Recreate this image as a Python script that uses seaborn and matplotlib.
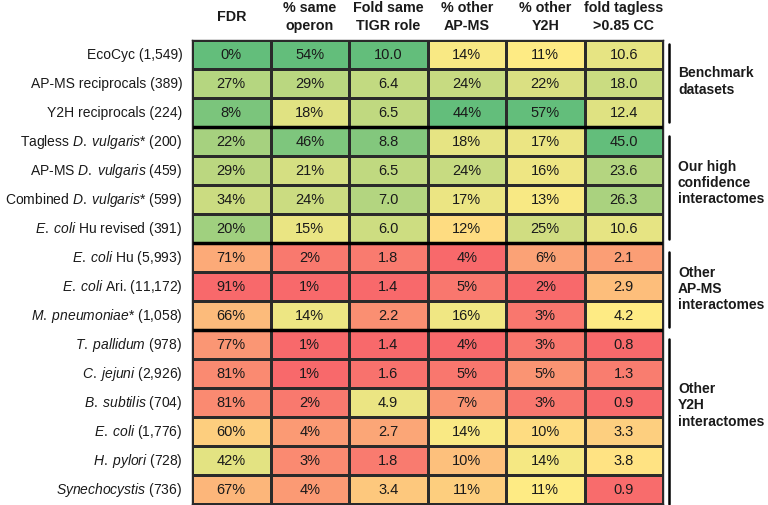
import numpy as np
import pandas as pd
import seaborn as sns
import matplotlib.pyplot as plt
from matplotlib.colors import LinearSegmentedColormap

sns.set_theme(style="white")
plt.rcParams['font.family'] = ['Liberation Sans', 'DejaVu Sans']
plt.rcParams['mathtext.fontset'] = 'custom'
plt.rcParams['mathtext.rm'] = 'Liberation Sans'
plt.rcParams['mathtext.it'] = 'Liberation Sans:italic'

# row labels (italic species names via mathtext)
row_labels = [
    "EcoCyc (1,549)",
    "AP-MS reciprocals (389)",
    "Y2H reciprocals (224)",
    r"Tagless $\mathit{D.\;vulgaris}$* (200)",
    r"AP-MS $\mathit{D.\;vulgaris}$ (459)",
    r"Combined $\mathit{D.\;vulgaris}$* (599)",
    r"$\mathit{E.\;coli}$ Hu revised (391)",
    r"$\mathit{E.\;coli}$ Hu (5,993)",
    r"$\mathit{E.\;coli}$ Ari. (11,172)",
    r"$\mathit{M.\;pneumoniae}$* (1,058)",
    r"$\mathit{T.\;pallidum}$ (978)",
    r"$\mathit{C.\;jejuni}$ (2,926)",
    r"$\mathit{B.\;subtilis}$ (704)",
    r"$\mathit{E.\;coli}$ (1,776)",
    r"$\mathit{H.\;pylori}$ (728)",
    r"$\mathit{Synechocystis}$ (736)",
]
col_headers = ["FDR", "% same\noperon", "Fold same\nTIGR role", "% other\nAP-MS",
               "% other\nY2H", "fold tagless\n>0.85 CC"]

fdr = [0, 27, 8, 22, 29, 34, 20, 71, 91, 66, 77, 81, 81, 60, 42, 67]
same_operon = [54, 29, 18, 46, 21, 24, 15, 2, 1, 14, 1, 1, 2, 4, 3, 4]
tigr_role = [10.0, 6.4, 6.5, 8.8, 6.5, 7.0, 6.0, 1.8, 1.4, 2.2, 1.4, 1.6, 4.9, 2.7, 1.8, 3.4]
other_apms = [14, 24, 44, 18, 24, 17, 12, 4, 5, 16, 4, 5, 7, 14, 10, 11]
other_y2h = [11, 22, 57, 17, 16, 13, 25, 6, 2, 3, 3, 5, 3, 10, 14, 11]
fold_tagless = [10.6, 18.0, 12.4, 45.0, 23.6, 26.3, 10.6, 2.1, 2.9, 4.2, 0.8, 1.3, 0.9, 3.3, 3.8, 0.9]

groups = ["Benchmark\ndatasets", "Our high\nconfidence\ninteractomes",
          "Other\nAP-MS\ninteractomes", "Other\nY2H\ninteractomes"]
group_bounds = [(0.14, 2.83), (3.32, 6.88), (7.33, 9.92), (10.33, 16.03)]
group_text_y = [1.4, 4.9, 8.57, 12.58]
separators = [3, 7, 10]


def excel_scale(vals, reverse=False):
    # Excel-like 3-colour scale: min / 50th percentile / max
    v = np.asarray(vals, dtype=float)
    lo, mid, hi = v.min(), np.percentile(v, 50), v.max()
    t = np.where(v <= mid, 0.5 * (v - lo) / (mid - lo), 0.5 + 0.5 * (v - mid) / (hi - mid))
    return 1 - t if reverse else t


columns = [fdr, same_operon, tigr_role, other_apms, other_y2h, fold_tagless]
scaled = np.column_stack([excel_scale(c, reverse=(i == 0)) for i, c in enumerate(columns)])

annot = np.column_stack([
    [f"{v}%" for v in fdr],
    [f"{v}%" for v in same_operon],
    [f"{v:.1f}" for v in tigr_role],
    [f"{v}%" for v in other_apms],
    [f"{v}%" for v in other_y2h],
    [f"{v:.1f}" for v in fold_tagless],
])

df = pd.DataFrame(scaled, index=row_labels, columns=col_headers)
cmap = LinearSegmentedColormap.from_list("rdylgn_excel", ["#F8696B", "#FFEB84", "#63BE7B"])

fig = plt.figure(figsize=(7.68, 5.06), dpi=100)
ax = fig.add_axes([192 / 768, 1.5 / 506, 471 / 768, 463.5 / 506])
sns.heatmap(df, cmap=cmap, vmin=0, vmax=1, annot=annot, fmt="", cbar=False,
            linewidths=0.8, linecolor="#2a2a2a",
            annot_kws={"fontsize": 10.5, "color": "#1a1a1a"}, ax=ax)

ax.set_xticks([])
ax.set_xlabel("")
ax.set_ylabel("")
ax.set_yticklabels(row_labels, rotation=0, fontsize=10, color="#1a1a1a")
ax.tick_params(axis="y", length=0, pad=7)
for s in ax.spines.values():
    s.set_visible(True)
    s.set_color("#2a2a2a")
    s.set_linewidth(1)

# column headers
for j, h in enumerate(col_headers):
    ax.text(j + 0.5, -0.83, h, ha="center", va="center", fontsize=10.3,
            fontweight="bold", color="#1a1a1a", linespacing=1.3, clip_on=False)

# thick group separators
ax.hlines(separators, 0, 6, color="black", lw=2.5, clip_on=False)

# group brackets and labels
for name, (y0, y1), ty in zip(groups, group_bounds, group_text_y):
    ax.plot([6.08, 6.08], [y0, y1], color="black", lw=1.8, clip_on=False)
    ax.text(6.19, ty, name, ha="left", va="center", fontsize=10,
            fontweight="bold", color="#1a1a1a", linespacing=1.2, clip_on=False)

fig.savefig("out.png", dpi=100)
